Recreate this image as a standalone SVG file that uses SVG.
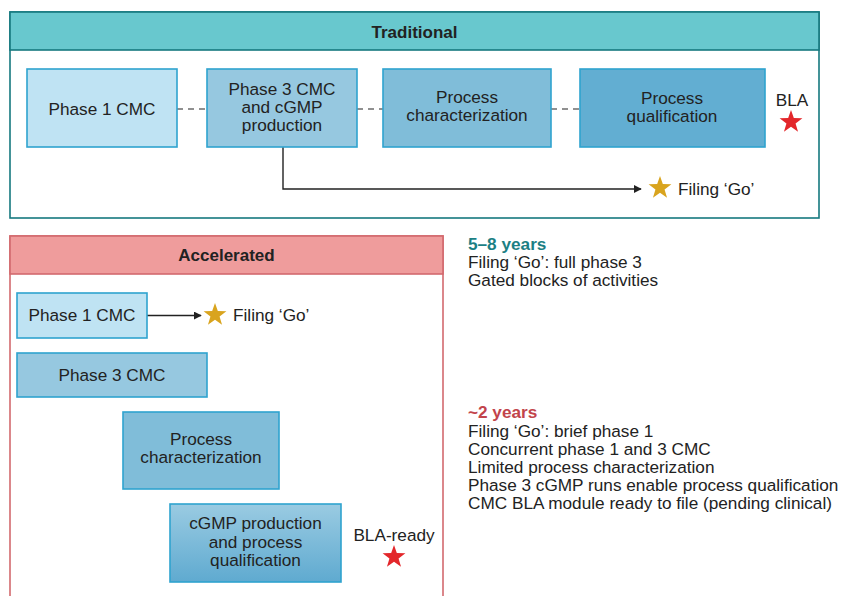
<svg xmlns="http://www.w3.org/2000/svg" width="843" height="596" viewBox="0 0 843 596">
<defs>
<style>
text{font-family:"Liberation Sans",Arial,sans-serif;fill:#222;font-size:17.2px}
.c{text-anchor:middle}
.h{font-weight:bold;font-size:17px}
.box{stroke:#2fa3cf;stroke-width:1.6}
.dash{stroke:#222;stroke-width:1.2;stroke-dasharray:6 5;fill:none}
.line{stroke:#222;stroke-width:1.4;fill:none}
</style>
<linearGradient id="g4" x1="0" y1="0" x2="0" y2="1">
<stop offset="0" stop-color="#9acbe2"/>
<stop offset="1" stop-color="#5faad0"/>
</linearGradient>
<polygon id="star" points="0,-12 2.82,-3.88 11.41,-3.71 4.56,1.48 7.05,9.71 0,4.8 -7.05,9.71 -4.56,1.48 -11.41,-3.71 -2.82,-3.88"/>
<marker id="arr" viewBox="0 0 10 10" refX="9" refY="5" markerWidth="8" markerHeight="8" markerUnits="userSpaceOnUse" orient="auto">
<path d="M0,0 L10,5 L0,10 Z" fill="#222"/>
</marker>
</defs>
<rect width="843" height="596" fill="#fff"/>

<g id="traditional">
<rect x="10" y="12" width="809" height="206" fill="#fff" stroke="#16797f" stroke-width="1.6"/>
<rect x="10" y="12" width="809" height="38" fill="#68c8ce" stroke="#16797f" stroke-width="1.6"/>
<text class="c h" x="414.5" y="38">Traditional</text>
</g>

<g id="accelerated">
<rect x="10" y="236" width="433" height="380" fill="#fff" stroke="#d36a6e" stroke-width="1.6"/>
<rect x="10" y="236" width="433" height="38" fill="#ef9c9c" stroke="#d36a6e" stroke-width="1.6"/>
<text class="c h" x="226.5" y="261">Accelerated</text>
</g>

<g id="connectors">
<line class="dash" x1="177" y1="109" x2="207" y2="109"/>
<line class="dash" x1="357" y1="109" x2="383" y2="109"/>
<line class="dash" x1="551" y1="109" x2="580" y2="109"/>
<polyline class="line" points="283,147 283,189 641,189" marker-end="url(#arr)"/>
<line class="line" x1="147" y1="315.5" x2="201" y2="315.5" marker-end="url(#arr)"/>
</g>

<g id="t-phase1">
<rect class="box" x="27" y="69" width="150" height="78" fill="#bfe3f3"/>
<text class="c" x="102" y="115">Phase 1 CMC</text>
</g>
<g id="t-phase3">
<rect class="box" x="207" y="69" width="150" height="78" fill="#96c8e0"/>
<text class="c" x="282" y="95">Phase 3 CMC</text>
<text class="c" x="282" y="113">and cGMP</text>
<text class="c" x="282" y="131">production</text>
</g>
<g id="t-char">
<rect class="box" x="383" y="69" width="168" height="78" fill="#80bdd9"/>
<text class="c" x="467" y="103">Process</text>
<text class="c" x="467" y="121">characterization</text>
</g>
<g id="t-qual">
<rect class="box" x="580" y="69" width="185" height="78" fill="#62aed2"/>
<text class="c" x="672" y="104">Process</text>
<text class="c" x="672" y="122">qualification</text>
</g>
<g id="t-bla">
<text class="c" x="792" y="106">BLA</text>
<use href="#star" x="791" y="122" fill="#e3272b"/>
</g>
<g id="t-filing">
<use href="#star" x="660" y="188" fill="#d9a41e"/>
<text x="678" y="195">Filing ‘Go’</text>
</g>

<g id="a-phase1">
<rect class="box" x="17" y="293" width="130" height="45" fill="#bfe3f3"/>
<text class="c" x="82" y="321">Phase 1 CMC</text>
</g>
<g id="a-filing">
<use href="#star" x="215" y="315" fill="#d9a41e"/>
<text x="233" y="321">Filing ‘Go’</text>
</g>
<g id="a-phase3">
<rect class="box" x="17" y="353" width="190" height="44" fill="#96c8e0"/>
<text class="c" x="112" y="381">Phase 3 CMC</text>
</g>
<g id="a-char">
<rect class="box" x="123" y="412" width="156" height="77" fill="#80bdd9"/>
<text class="c" x="201" y="445">Process</text>
<text class="c" x="201" y="463">characterization</text>
</g>
<g id="a-qual">
<rect class="box" x="170" y="504" width="171" height="78" fill="url(#g4)"/>
<text class="c" x="255.5" y="529">cGMP production</text>
<text class="c" x="255.5" y="548">and process</text>
<text class="c" x="255.5" y="566">qualification</text>
</g>
<g id="a-bla">
<text class="c" x="394" y="541">BLA-ready</text>
<use href="#star" x="394" y="557" fill="#e3272b"/>
</g>

<g id="notes">
<text x="468" y="250" font-weight="bold" style="fill:#1c7f84">5–8 years</text>
<text x="468" y="268">Filing ‘Go’: full phase 3</text>
<text x="468" y="286">Gated blocks of activities</text>
<text x="468" y="418" font-weight="bold" style="fill:#c2444b">~2 years</text>
<text x="468" y="437">Filing ‘Go’: brief phase 1</text>
<text x="468" y="455">Concurrent phase 1 and 3 CMC</text>
<text x="468" y="473">Limited process characterization</text>
<text x="468" y="491">Phase 3 cGMP runs enable process qualification</text>
<text x="468" y="509">CMC BLA module ready to file (pending clinical)</text>
</g>
</svg>
